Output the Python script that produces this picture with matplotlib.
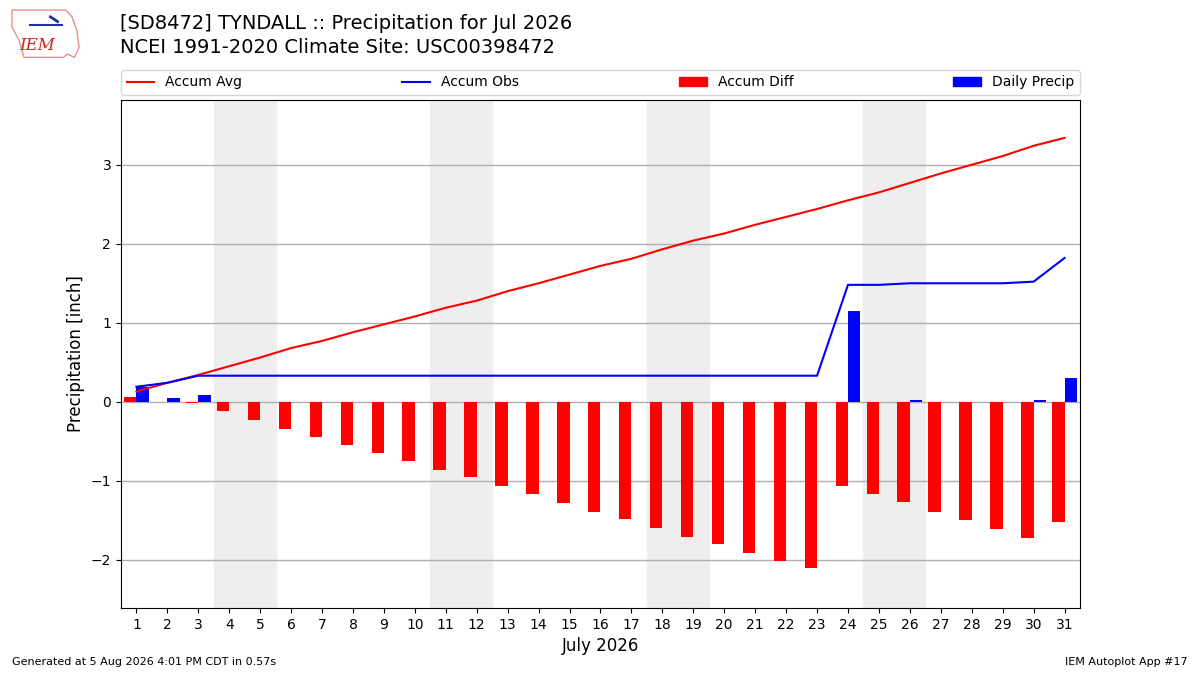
import matplotlib.pyplot as plt
from matplotlib.patches import Patch, Polygon
from matplotlib.lines import Line2D

days = list(range(1, 32))
daily_precip = [0.19, 0.05, 0.09, 0, 0, 0, 0, 0, 0, 0,
                0, 0, 0, 0, 0, 0, 0, 0, 0, 0,
                0, 0, 0, 1.15, 0, 0.02, 0, 0, 0, 0.02, 0.30]
accum_obs = [0.19, 0.24, 0.33, 0.33, 0.33, 0.33, 0.33, 0.33, 0.33, 0.33,
             0.33, 0.33, 0.33, 0.33, 0.33, 0.33, 0.33, 0.33, 0.33, 0.33,
             0.33, 0.33, 0.33, 1.48, 1.48, 1.50, 1.50, 1.50, 1.50, 1.52, 1.82]
accum_avg = [0.13, 0.24, 0.34, 0.45, 0.56, 0.68, 0.77, 0.88, 0.98, 1.08,
             1.19, 1.28, 1.40, 1.50, 1.61, 1.72, 1.81, 1.93, 2.04, 2.13,
             2.24, 2.34, 2.44, 2.55, 2.65, 2.77, 2.89, 3.00, 3.11, 3.24, 3.34]
accum_diff = [0.06, 0.0, -0.01, -0.12, -0.23, -0.35, -0.44, -0.55, -0.65, -0.75,
              -0.86, -0.95, -1.07, -1.17, -1.28, -1.39, -1.48, -1.60, -1.71, -1.80,
              -1.91, -2.01, -2.11, -1.07, -1.17, -1.27, -1.39, -1.50, -1.61, -1.72, -1.52]
weekends = [(4, 5), (11, 12), (18, 19), (25, 26)]

fig = plt.figure(figsize=(12, 6.75), dpi=100)
ax = fig.add_axes([0.1008, 0.0993, 0.7992, 0.7526])

for a, b in weekends:
    ax.axvspan(a - 0.5, b + 0.5, color='#EEEEEE', zorder=0)

ax.bar(days, accum_diff, width=-0.4, align='edge', color='r', zorder=2)
ax.bar(days, daily_precip, width=0.4, align='edge', color='b', zorder=2)
ax.plot(days, accum_avg, color='r', lw=1.5, zorder=3)
ax.plot(days, accum_obs, color='b', lw=1.5, zorder=3)

ax.set_xlim(0.5, 31.5)
ax.set_ylim(-2.61, 3.82)
ax.set_xticks(days)
ax.set_yticks([-2, -1, 0, 1, 2, 3])
ax.grid(axis='y', color='#b0b0b0', lw=1)
ax.set_axisbelow(True)
ax.set_xlabel('July 2026', fontsize=12)
ax.set_ylabel('Precipitation [inch]', fontsize=12)

handles = [Line2D([], [], color='r', lw=1.5), Line2D([], [], color='b', lw=1.5),
           Patch(color='r'), Patch(color='b')]
labels = ['Accum Avg', 'Accum Obs', 'Accum Diff', 'Daily Precip']
fig.legend(handles, labels, loc='lower left', ncol=4, mode='expand',
           bbox_to_anchor=(0.1008, 1 - 95 / 675, 0.7992, 26 / 675),
           borderaxespad=0, fontsize=10)

fig.text(0.1, 0.965, '[SD8472] TYNDALL :: Precipitation for Jul 2026', fontsize=14, va='center')
fig.text(0.1, 0.930, 'NCEI 1991-2020 Climate Site: USC00398472', fontsize=14, va='center')

# rough IEM logo
iowa = [(0.010, 0.985), (0.055, 0.985), (0.060, 0.975), (0.064, 0.955), (0.066, 0.93),
        (0.062, 0.915), (0.056, 0.92), (0.053, 0.915), (0.020, 0.915), (0.016, 0.94),
        (0.010, 0.96)]
fig.patches.append(Polygon(iowa, closed=True, transform=fig.transFigure,
                           fill=False, edgecolor='#e89090', lw=1))
fig.text(0.031, 0.932, 'IEM', color='#d02020', fontsize=12, style='italic',
         family='DejaVu Serif', ha='center', va='center')
fig.add_artist(Line2D([0.025, 0.052], [0.963, 0.963], color='#2030a0', lw=1.5,
                      transform=fig.transFigure))
fig.add_artist(Line2D([0.042, 0.048], [0.975, 0.968], color='#2030a0', lw=2,
                      transform=fig.transFigure))

fig.text(0.01, 0.015, 'Generated at 5 Aug 2026 4:01 PM CDT in 0.57s', fontsize=8)
fig.text(0.99, 0.015, 'IEM Autoplot App #17', fontsize=8, ha='right')

fig.savefig('out.png')
